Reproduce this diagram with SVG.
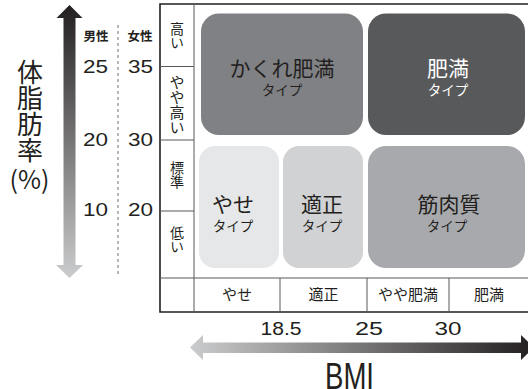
<svg xmlns="http://www.w3.org/2000/svg" width="528" height="389" viewBox="0 0 528 389">
<defs>
<linearGradient id="gv" x1="0" y1="0" x2="0" y2="1">
<stop offset="0" stop-color="#231f20"/>
<stop offset="1" stop-color="#cbcccd"/>
</linearGradient>
<linearGradient id="gh" x1="0" y1="0" x2="1" y2="0">
<stop offset="0" stop-color="#cbcccd"/>
<stop offset="1" stop-color="#231f20"/>
</linearGradient>
<style>
text{font-family:"Noto Sans CJK JP","Noto Sans",sans-serif;fill:#231f20;text-anchor:middle}
.vt{writing-mode:vertical-rl}
.big{font-size:21px}
.sub{font-size:13.5px}
.w{fill:#ffffff}
.row{font-size:14px}
.col{font-size:15px}
.num{font-family:"Liberation Sans",Arial,sans-serif;font-size:17.5px}
.hd{font-size:12.5px;font-weight:bold}
.outer{stroke:#231f20;stroke-width:1.6;fill:none}
.inner{stroke:#58595b;stroke-width:1;fill:none}
</style>
</defs>
<rect width="528" height="389" fill="#ffffff"/>

<g id="axis-y">
<polygon points="69.5,5 56.5,18 63.5,18 63.5,265 56,265 69.5,278 83,265 75.5,265 75.5,18 82.5,18" fill="url(#gv)"/>
<text class="vt" x="30" y="111.5" style="font-size:26px">体脂肪率</text>
<text x="29.5" y="189" style="font-size:25px">(%)</text>
<line x1="118" y1="25" x2="118" y2="277" stroke="#6d6e71" stroke-width="1" stroke-dasharray="3,3"/>
<text class="hd" x="96" y="41">男性</text>
<text class="hd" x="140" y="41">女性</text>
<text class="num" x="95.5" y="73" textLength="25" lengthAdjust="spacingAndGlyphs">25</text>
<text class="num" x="140.5" y="73" textLength="25" lengthAdjust="spacingAndGlyphs">35</text>
<text class="num" x="95.5" y="146" textLength="25" lengthAdjust="spacingAndGlyphs">20</text>
<text class="num" x="140.5" y="146" textLength="25" lengthAdjust="spacingAndGlyphs">30</text>
<text class="num" x="95.5" y="216" textLength="25" lengthAdjust="spacingAndGlyphs">10</text>
<text class="num" x="140.5" y="216" textLength="25" lengthAdjust="spacingAndGlyphs">20</text>
</g>

<g id="table">
<polyline class="outer" points="528,4 160,4 160,312 528,312"/>
<line class="inner" x1="194" y1="4" x2="194" y2="312"/>
<line class="inner" x1="160" y1="66.5" x2="194" y2="66.5"/>
<line class="inner" x1="160" y1="140" x2="194" y2="140"/>
<line class="inner" x1="160" y1="211" x2="194" y2="211"/>
<line class="inner" x1="160" y1="278" x2="528" y2="278"/>
<line class="inner" x1="280" y1="278" x2="280" y2="312"/>
<line class="inner" x1="367" y1="278" x2="367" y2="312"/>
<line class="inner" x1="449" y1="278" x2="449" y2="312"/>
<text class="row vt" x="177" y="36">高い</text>
<text class="row vt" x="177" y="105" style="font-size:15px">やや高い</text>
<text class="row vt" x="177" y="175">標準</text>
<text class="row vt" x="177" y="240">低い</text>
<text class="col" x="237" y="300">やせ</text>
<text class="col" x="323.5" y="300">適正</text>
<text class="col" x="408" y="300">やや肥満</text>
<text class="col" x="489" y="300">肥満</text>
</g>

<g id="kakure">
<rect x="201" y="13.5" width="162" height="121.5" rx="18" fill="#808184"/>
<text class="big" x="282" y="76">かくれ肥満</text>
<text class="sub" x="282" y="95">タイプ</text>
</g>
<g id="himan">
<rect x="368" y="13.5" width="157" height="121.5" rx="18" fill="#58595b"/>
<text class="big w" x="448" y="76">肥満</text>
<text class="sub w" x="448" y="95">タイプ</text>
</g>
<g id="yase">
<rect x="199" y="146" width="80" height="122" rx="16" fill="#e6e7e8"/>
<text class="big" x="233" y="212">やせ</text>
<text class="sub" x="233" y="231">タイプ</text>
</g>
<g id="tekisei">
<rect x="283" y="146" width="80" height="122" rx="16" fill="#d1d2d4"/>
<text class="big" x="322" y="212">適正</text>
<text class="sub" x="322" y="231">タイプ</text>
</g>
<g id="kinniku">
<rect x="368" y="146" width="157" height="122" rx="18" fill="#a7a9ac"/>
<text class="big" x="449" y="212">筋肉質</text>
<text class="sub" x="447" y="231">タイプ</text>
</g>

<g id="axis-x">
<polygon points="190,347.5 203,335 203,342.5 521,342.5 521,335 534,347.5 521,360 521,353 203,353 203,360" fill="url(#gh)"/>
<text class="num" x="281" y="335" textLength="41" lengthAdjust="spacingAndGlyphs">18.5</text>
<text class="num" x="369" y="335" textLength="28" lengthAdjust="spacingAndGlyphs">25</text>
<text class="num" x="448" y="335" textLength="27" lengthAdjust="spacingAndGlyphs">30</text>
<text x="349.5" y="389" style="font-family:'Liberation Sans',Arial,sans-serif;font-size:37px" textLength="49" lengthAdjust="spacingAndGlyphs">BMI</text>
</g>
</svg>
